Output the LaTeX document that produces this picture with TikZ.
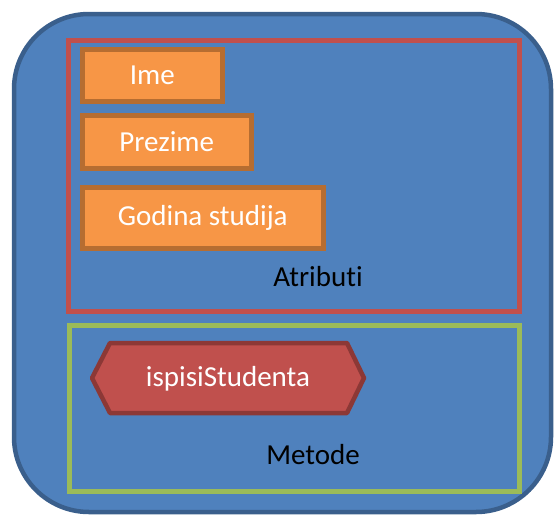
\documentclass[tikz,border=0pt]{standalone}
\usepackage{fontspec}
\setmainfont[RawFeature=-liga]{Carlito}
\definecolor{outerfill}{HTML}{4F81BD}
\definecolor{outerline}{HTML}{3A5F8C}
\definecolor{redline}{HTML}{C0504D}
\definecolor{greenline}{HTML}{9BBB59}
\definecolor{orfill}{HTML}{F79646}
\definecolor{orline}{HTML}{B66D31}
\definecolor{hexfill}{HTML}{C0504D}
\definecolor{hexline}{HTML}{8C3836}
\begin{document}
\begin{tikzpicture}[x=1pt,y=-1pt,
  lbl/.style={font=\fontsize{29}{35}\selectfont, inner sep=0pt},
  attrbox/.style={draw=orline, fill=orfill, line width=4.5pt, rectangle, inner sep=0pt, anchor=north west},
  group/.style={line width=4.5pt, rectangle, inner sep=0pt, anchor=north west}]
\useasboundingbox (0,0) rectangle (554,514);
% outer rounded box
\draw[draw=outerline, fill=outerfill, line width=4.5pt, rounded corners=75pt] (14,14) rectangle (551,512);
% Atributi group
\node[group, draw=redline, minimum width=451pt, minimum height=271pt] (attrs) at (66,38) {};
\node[lbl, text=black] (atrlbl) at (318,277) {Atributi};
% attribute boxes
\node[attrbox, minimum width=140pt, minimum height=52pt] (ime) at (80,47) {};
\node[lbl, text=white] (imet) at (ime.center) {Ime};
\node[attrbox, minimum width=169pt, minimum height=53pt] (prez) at (80,113) {};
\node[lbl, text=white] (prezt) at (prez.center) {Prezime};
\node[attrbox, minimum width=241pt, minimum height=61pt] (god) at (80,185) {};
\node[lbl, text=white] (godt) at (god.center) {Godina studija};
% Metode group
\node[group, draw=greenline, minimum width=450pt, minimum height=166pt] (meth) at (67,323) {};
\node[lbl, text=black] (metlbl) at (313,455) {Metode};
% hexagon
\draw[draw=hexline, fill=hexfill, line width=4.5pt, line join=round]
  (92,378) -- (110,343) -- (347,343) -- (364,378) -- (347,413) -- (110,413) -- cycle;
\node[lbl, text=white] (hext) at (228,379) {ispisiStudenta};
\end{tikzpicture}
\end{document}
